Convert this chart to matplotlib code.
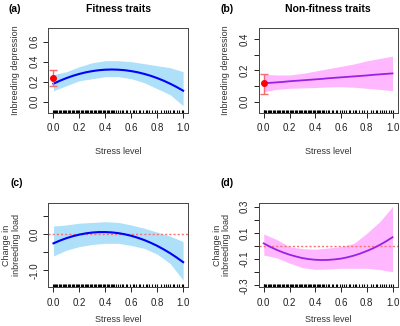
import matplotlib
matplotlib.use("Agg")
import matplotlib.pyplot as plt
import matplotlib.transforms as mtransforms

plt.rcParams['font.family'] = ['Liberation Sans', 'DejaVu Sans']
plt.rcParams['axes.unicode_minus'] = False

# ---- data ----
x_band = [0.0, 0.1, 0.2, 0.3, 0.4, 0.5, 0.6, 0.7, 0.8, 0.9, 1.0]
x_line = [0.0, 0.05, 0.1, 0.15, 0.2, 0.25, 0.3, 0.35, 0.4, 0.45, 0.5,
          0.55, 0.6, 0.65, 0.7, 0.75, 0.8, 0.85, 0.9, 0.95, 1.0]

a_line = [0.180, 0.210, 0.236, 0.259, 0.278, 0.294, 0.306, 0.315, 0.320, 0.322, 0.320,
          0.315, 0.306, 0.294, 0.278, 0.259, 0.236, 0.210, 0.180, 0.147, 0.110]
a_upper = [0.27, 0.30, 0.35, 0.39, 0.41, 0.41, 0.40, 0.38, 0.36, 0.34, 0.30]
a_lower = [0.11, 0.16, 0.21, 0.23, 0.25, 0.25, 0.23, 0.19, 0.13, 0.07, -0.04]
a_point = 0.235
a_err = (0.16, 0.315)

b_line = [0.117, 0.120, 0.123, 0.126, 0.130, 0.133, 0.136, 0.139, 0.142, 0.145, 0.149,
          0.152, 0.155, 0.158, 0.161, 0.164, 0.167, 0.171, 0.174, 0.177, 0.180]
b_upper = [0.175, 0.17, 0.17, 0.18, 0.195, 0.21, 0.225, 0.24, 0.26, 0.275, 0.29]
b_lower = [0.064, 0.078, 0.085, 0.088, 0.09, 0.094, 0.096, 0.092, 0.085, 0.078, 0.07]
b_point = 0.117
b_err = (0.047, 0.175)

c_line = [-0.250, -0.173, -0.107, -0.051, -0.007, 0.027, 0.050, 0.062, 0.063, 0.053, 0.033,
          0.001, -0.041, -0.095, -0.159, -0.234, -0.320, -0.417, -0.524, -0.643, -0.772]
c_upper = [0.23, 0.26, 0.31, 0.33, 0.35, 0.33, 0.26, 0.17, 0.06, -0.05, -0.20]
c_lower = [-0.60, -0.44, -0.34, -0.28, -0.25, -0.25, -0.31, -0.39, -0.55, -0.81, -1.27]

d_line = [0.020, -0.006, -0.029, -0.049, -0.066, -0.080, -0.092, -0.100, -0.105, -0.107, -0.106,
          -0.102, -0.096, -0.086, -0.073, -0.057, -0.038, -0.017, 0.008, 0.036, 0.067]
d_upper = [0.092, 0.05, -0.005, -0.02, -0.025, -0.015, -0.005, 0.02, 0.097, 0.185, 0.30]
d_lower = [-0.069, -0.09, -0.13, -0.165, -0.178, -0.175, -0.17, -0.17, -0.17, -0.18, -0.196]

stress_obs = [0.0, 0.005, 0.01, 0.02, 0.03, 0.04, 0.05, 0.06, 0.07, 0.08, 0.09, 0.10, 0.11,
              0.12, 0.13, 0.14, 0.15, 0.16, 0.17, 0.18, 0.19, 0.20, 0.21, 0.22, 0.23, 0.24,
              0.25, 0.26, 0.27, 0.28, 0.29, 0.30, 0.31, 0.32, 0.33, 0.34, 0.35, 0.36, 0.37,
              0.38, 0.39, 0.40, 0.41, 0.42, 0.43, 0.44, 0.45, 0.46, 0.47, 0.48, 0.50, 0.51,
              0.53, 0.54, 0.56, 0.57, 0.59, 0.61, 0.62, 0.64, 0.66, 0.67, 0.69, 0.71, 0.72,
              0.74, 0.76, 0.78, 0.80, 0.83, 0.85, 0.87, 0.88, 0.90, 0.92, 0.93, 0.95, 0.97,
              0.99, 1.0]

x_ticks = [0.0, 0.2, 0.4, 0.6, 0.8, 1.0]
x_ticklabels = ['0.0', '0.2', '0.4', '0.6', '0.8', '1.0']

BLUE_BAND = '#AEE0FA'
PINK_BAND = '#FFB8FF'
BLUE_LINE = '#0000FF'
PURPLE_LINE = '#9A20E6'
ERR_COL = '#F07070'

W, H = 400, 326
fig = plt.figure(figsize=(4.0, 3.26), dpi=100)


def px_axes(l, r, t, b):
    return fig.add_axes([l / W, 1 - b / H, (r - l) / W, (b - t) / H])


def style(ax, ylim, yticks, ylabels):
    ax.set_xlim(-0.04, 1.04)
    ax.set_ylim(*ylim)
    ax.set_xticks(x_ticks)
    ax.set_xticklabels(x_ticklabels)
    ax.set_yticks(yticks)
    ax.set_yticklabels(ylabels, rotation=90, va='center')
    ax.tick_params(direction='out', length=3.5, width=0.7, labelsize=7,
                   colors='#222222')
    ax.tick_params(axis='x', pad=4)
    ax.tick_params(axis='y', pad=3)
    for s in ax.spines.values():
        s.set_linewidth(0.7)
        s.set_color('#444444')


def rug(ax):
    trans = mtransforms.blended_transform_factory(ax.transData, ax.transAxes)
    ax.vlines(stress_obs, 0, 0.04, transform=trans, color='black', lw=0.8)


def errpoint(ax, val, err):
    ax.errorbar([0.0], [val], yerr=[[val - err[0]], [err[1] - val]], fmt='none',
                ecolor=ERR_COL, elinewidth=1.0, capsize=3, capthick=1.0, zorder=5)
    ax.plot([0.0], [val], 'o', color='red', ms=4, zorder=6)


LAB = dict(fontsize=6.5, color='#333333')

# (a)
axa = px_axes(48.3, 188.3, 28, 113)
axa.fill_between(x_band, a_lower, a_upper, color=BLUE_BAND, lw=0)
axa.plot(x_line, a_line, color=BLUE_LINE, lw=1.5)
errpoint(axa, a_point, a_err)
rug(axa)
style(axa, (-0.113, 0.737), [0.0, 0.2, 0.4, 0.6], ['0.0', '0.2', '0.4', '0.6'])
axa.set_ylabel('Inbreeding depression', labelpad=7, **LAB)
axa.set_xlabel('Stress level', labelpad=10, **LAB)

# (b)
axb = px_axes(258.6, 397.7, 28, 113)
axb.fill_between(x_band, b_lower, b_upper, color=PINK_BAND, lw=0)
axb.plot(x_line, b_line, color=PURPLE_LINE, lw=1.3)
errpoint(axb, b_point, b_err)
rug(axb)
style(axb, (-0.072, 0.469), [0.0, 0.1, 0.2, 0.3, 0.4], ['0.0', '', '0.2', '', '0.4'])
axb.set_ylabel('Inbreeding depression', labelpad=7, **LAB)
axb.set_xlabel('Stress level', labelpad=10, **LAB)

# (c)
axc = px_axes(48.3, 188.3, 203.3, 287.3)
axc.fill_between(x_band, c_lower, c_upper, color=BLUE_BAND, lw=0)
axc.axhline(0, color='#FF7070', lw=1.0, ls=(0, (1.5, 1.5)))
axc.plot(x_line, c_line, color=BLUE_LINE, lw=1.5)
rug(axc)
style(axc, (-1.47, 0.861), [-1.0, -0.5, 0.0, 0.5], ['-1.0', '', '0.0', ''])
axc.set_ylabel('Change in\ninbreeding load', labelpad=6, linespacing=1.1, **LAB)
axc.set_xlabel('Stress level', labelpad=5, **LAB)

# (d)
axd = px_axes(258.6, 397.7, 203.3, 287.3)
axd.fill_between(x_band, d_lower, d_upper, color=PINK_BAND, lw=0)
axd.axhline(0, color='#FF7070', lw=1.0, ls=(0, (1.5, 1.5)))
axd.plot(x_line, d_line, color=PURPLE_LINE, lw=1.3)
rug(axd)
style(axd, (-0.315, 0.326), [-0.3, -0.2, -0.1, 0.0, 0.1, 0.2, 0.3],
      ['-0.3', '', '-0.1', '', '0.1', '', '0.3'])
axd.set_ylabel('Change in\ninbreeding load', labelpad=6, linespacing=1.1, **LAB)
axd.set_xlabel('Stress level', labelpad=5, **LAB)

# titles / panel letters
def ftext(x, y, s, **kw):
    fig.text(x / W, 1 - y / H, s, ha='center', va='center', **kw)

ftext(15, 9, '(a)', fontsize=7.5, fontweight='bold')
ftext(118.5, 9, 'Fitness traits', fontsize=7.5, fontweight='bold')
ftext(227, 9, '(b)', fontsize=7.5, fontweight='bold')
ftext(328, 9, 'Non-fitness traits', fontsize=7.5, fontweight='bold')
ftext(17, 183, '(c)', fontsize=7.5, fontweight='bold')
ftext(227, 183, '(d)', fontsize=7.5, fontweight='bold')

fig.savefig('out.png', dpi=100)
